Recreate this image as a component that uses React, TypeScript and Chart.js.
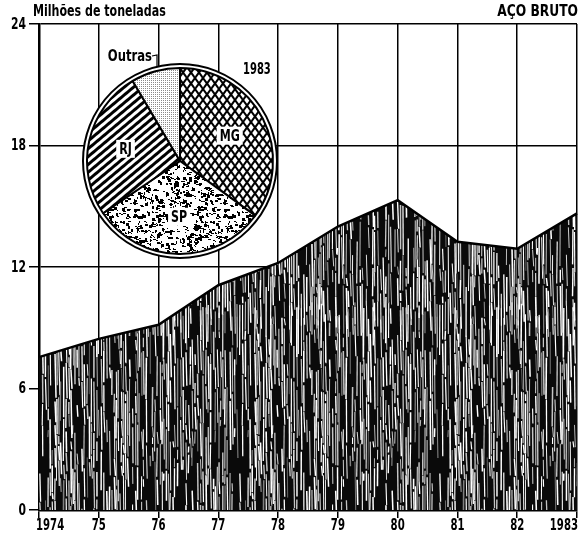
import React, { useEffect, useRef } from 'react';
import { Chart, registerables } from 'chart.js';
Chart.register(...registerables);

// ---- data ----
const years = ['1974', '75', '76', '77', '78', '79', '80', '81', '82', '1983'];
const production = [7.55, 8.45, 9.15, 11.1, 12.2, 14.0, 15.3, 13.25, 12.9, 14.65];
const yTickStep = 6;
const yMax = 24;
const pieLabels = ['MG', 'SP', 'RJ', 'Outras'];
const pieShares = [35, 30.5, 26, 8.5];
const pieYear = '1983';
const unitLabel = 'Milhões de toneladas';
const chartTitle = 'AÇO BRUTO';

const FONT = "'DejaVu Sans Condensed', 'DejaVu Sans', sans-serif";
const FONT_CSS = `bold 15px ${FONT}`;

function mulberry32(a: number) {
  return function () {
    a |= 0; a = (a + 0x6d2b79f5) | 0;
    let t = Math.imul(a ^ (a >>> 15), 1 | a);
    t = (t + Math.imul(t ^ (t >>> 7), 61 | t)) ^ t;
    return ((t ^ (t >>> 14)) >>> 0) / 4294967296;
  };
}

function drawText(ctx: CanvasRenderingContext2D, text: string, x: number, y: number, align: CanvasTextAlign, sx: number) {
  ctx.save();
  ctx.translate(x, y);
  ctx.scale(sx, 1);
  ctx.textAlign = align;
  ctx.fillText(text, 0, 0);
  ctx.restore();
}

function streakPattern(ctx: CanvasRenderingContext2D) {
  const W = 200, H = 300;
  const c = document.createElement('canvas'); c.width = W; c.height = H;
  const g = c.getContext('2d')!;
  g.fillStyle = '#0a0a0a'; g.fillRect(0, 0, W, H);
  const rnd = mulberry32(11);
  let x = 0.5;
  while (x < W - 1) {
    let y = rnd() * 20;
    const yStart = y;
    while (y < H + yStart) {
      const len = 6 + rnd() * 45;
      if (rnd() < 0.66) {
        const r = rnd();
        g.strokeStyle = r < 0.72 ? '#ffffff' : r < 0.9 ? '#c4c4c4' : '#808080';
        g.lineWidth = 0.7 + rnd() * 0.9;
        const dx = (rnd() - 0.3) * 1.6;
        for (const oy of [0, -H]) {
          for (const ox of [-W, 0, W]) {
            g.beginPath(); g.moveTo(x + ox, y + oy); g.lineTo(x + ox + dx, y + oy + len); g.stroke();
          }
        }
      }
      y += len + rnd() * 4;
    }
    x += 1.5 + rnd() * 1.7;
  }
  return ctx.createPattern(c, 'repeat')!;
}

function crossPattern(ctx: CanvasRenderingContext2D) {
  const W = 8, H = 11;
  const c = document.createElement('canvas'); c.width = W; c.height = H;
  const g = c.getContext('2d')!;
  g.fillStyle = '#fff'; g.fillRect(0, 0, W, H);
  g.strokeStyle = '#000'; g.lineWidth = 2;
  for (const ox of [-W, 0, W]) {
    g.beginPath(); g.moveTo(ox, 0); g.lineTo(ox + W, H); g.stroke();
    g.beginPath(); g.moveTo(ox + W, 0); g.lineTo(ox, H); g.stroke();
  }
  return ctx.createPattern(c, 'repeat')!;
}

function stripePattern(ctx: CanvasRenderingContext2D) {
  const c = document.createElement('canvas'); c.width = 6; c.height = 6;
  const g = c.getContext('2d')!;
  g.fillStyle = '#fff'; g.fillRect(0, 0, 6, 6);
  g.fillStyle = '#000'; g.fillRect(0, 0, 6, 3);
  const p = ctx.createPattern(c, 'repeat')!;
  p.setTransform(new DOMMatrix().rotateSelf(-40));
  return p;
}

function speckPattern(ctx: CanvasRenderingContext2D) {
  const W = 90, H = 90;
  const c = document.createElement('canvas'); c.width = W; c.height = H;
  const g = c.getContext('2d')!;
  g.fillStyle = '#fff'; g.fillRect(0, 0, W, H);
  g.fillStyle = '#000';
  const rnd = mulberry32(5);
  for (let i = 0; i < 650; i++) {
    const x = Math.floor(rnd() * W), y = Math.floor(rnd() * H);
    const w = 1 + Math.floor(rnd() * 3), h = 1 + Math.floor(rnd() * 3);
    g.fillRect(x, y, w, h);
    if (rnd() < 0.4) g.fillRect(x + w, y + 1, 1 + Math.floor(rnd() * 2), 1);
  }
  return ctx.createPattern(c, 'repeat')!;
}

function dotPattern(ctx: CanvasRenderingContext2D) {
  const c = document.createElement('canvas'); c.width = 2; c.height = 2;
  const g = c.getContext('2d')!;
  g.fillStyle = '#fff'; g.fillRect(0, 0, 2, 2);
  g.fillStyle = '#8a8a8a'; g.fillRect(0, 0, 1, 1);
  return ctx.createPattern(c, 'repeat')!;
}

export default function App() {
  const mainRef = useRef<HTMLCanvasElement>(null);
  const pieRef = useRef<HTMLCanvasElement>(null);

  useEffect(() => {
    const mainCtx = mainRef.current!.getContext('2d')!;
    const pieCtx = pieRef.current!.getContext('2d')!;

    const textPlugin = {
      id: 'texts',
      afterDraw(chart: any) {
        const ctx = chart.ctx;
        ctx.save();
        ctx.fillStyle = '#000';
        ctx.font = FONT_CSS;
        ctx.textBaseline = 'alphabetic';
        drawText(ctx, unitLabel, 33, 16, 'left', 0.82);
        drawText(ctx, chartTitle, 578, 16, 'right', 0.91);
        drawText(ctx, pieYear, 243, 74, 'left', 0.74);
        drawText(ctx, pieLabels[3], 152, 61, 'right', 0.86);
        ctx.strokeStyle = '#000'; ctx.lineWidth = 1.2;
        ctx.beginPath(); ctx.moveTo(152, 56); ctx.lineTo(157, 55); ctx.lineTo(157, 67); ctx.stroke();

        // axis tick labels, placed through the chart's scales
        const xs = chart.scales.x, ys = chart.scales.y;
        ctx.textBaseline = 'middle';
        const n = xs.ticks.length;
        xs.ticks.forEach((t: any, i: number) => {
          const px = xs.getPixelForTick(i);
          const lbl = xs.getLabelForValue(t.value);
          const align: CanvasTextAlign = i === 0 ? 'left' : i === n - 1 ? 'right' : 'center';
          drawText(ctx, lbl, i === 0 ? px - 3 : i === n - 1 ? px + 1 : px, ys.bottom + 16, align, 0.75);
        });
        ys.ticks.forEach((t: any) => {
          const py = ys.getPixelForValue(t.value);
          drawText(ctx, String(t.value), 26, py + 1, 'right', 0.8);
        });
        ctx.restore();
      },
    };

    const main = new Chart(mainCtx, {
      type: 'line',
      data: {
        labels: years,
        datasets: [{
          data: production,
          fill: 'origin',
          backgroundColor: streakPattern(mainCtx),
          borderColor: '#000',
          borderWidth: 2.5,
          pointRadius: 0,
          tension: 0,
        }],
      },
      options: {
        responsive: false,
        animation: false,
        devicePixelRatio: 1,
        events: [],
        layout: { padding: { top: 24, right: 4, left: 0, bottom: 0 } },
        plugins: { legend: { display: false }, tooltip: { enabled: false } },
        scales: {
          x: {
            type: 'category',
            offset: false,
            grid: { color: '#000', lineWidth: 1.5, tickLength: 8 },
            border: { color: '#000', width: 2.5 },
            ticks: { display: false, autoSkip: false },
            afterFit: (s: any) => { s.height = 32; },
          },
          y: {
            min: 0, max: yMax,
            grid: { color: '#000', lineWidth: 1.5, tickLength: 10 },
            border: { color: '#000', width: 2.5 },
            ticks: { display: false, stepSize: yTickStep },
            afterFit: (s: any) => { s.width = 39; },
          },
        },
      },
      plugins: [textPlugin],
    } as any);

    const piePlugin = {
      id: 'pieDeco',
      beforeDatasetsDraw(chart: any) {
        const arc = chart.getDatasetMeta(0).data[0];
        if (!arc) return;
        const ctx = chart.ctx;
        ctx.save();
        ctx.fillStyle = '#fff';
        ctx.beginPath(); ctx.arc(arc.x, arc.y, arc.outerRadius + 4, 0, Math.PI * 2); ctx.fill();
        ctx.restore();
      },
      afterDatasetsDraw(chart: any) {
        const meta = chart.getDatasetMeta(0);
        const a0 = meta.data[0];
        const ctx = chart.ctx;
        ctx.save();
        ctx.strokeStyle = '#000'; ctx.lineWidth = 2;
        ctx.beginPath(); ctx.arc(a0.x, a0.y, a0.outerRadius + 4, 0, Math.PI * 2); ctx.stroke();
        ctx.font = FONT_CSS;
        ctx.textBaseline = 'middle';
        meta.data.forEach((arc: any, i: number) => {
          if (i === 3) return;
          const mid = (arc.startAngle + arc.endAngle) / 2;
          const r = arc.outerRadius * 0.6;
          const x = arc.x + Math.cos(mid) * r, y = arc.y + Math.sin(mid) * r;
          const w = ctx.measureText(pieLabels[i]).width * 0.82 + 6;
          ctx.fillStyle = '#fff';
          ctx.fillRect(x - w / 2, y - 9, w, 18);
          ctx.fillStyle = '#000';
          drawText(ctx, pieLabels[i], x, y + 1, 'center', 0.82);
        });
        ctx.restore();
      },
    };

    const pie = new Chart(pieCtx, {
      type: 'pie',
      data: {
        labels: pieLabels,
        datasets: [{
          data: pieShares,
          backgroundColor: [crossPattern(pieCtx), speckPattern(pieCtx), stripePattern(pieCtx), dotPattern(pieCtx)],
          borderColor: '#000',
          borderWidth: 2,
        }],
      },
      options: {
        responsive: false,
        animation: false,
        devicePixelRatio: 1,
        events: [],
        layout: { padding: 11 },
        plugins: { legend: { display: false }, tooltip: { enabled: false } },
      },
      plugins: [piePlugin],
    } as any);

    return () => { main.destroy(); pie.destroy(); };
  }, []);

  return (
    <div style={{ position: 'fixed', left: 0, top: 0, width: 581, height: 542, background: '#fff' }}>
      <canvas ref={mainRef} width={581} height={542} style={{ position: 'absolute', left: 0, top: 0 }} />
      <canvas ref={pieRef} width={210} height={210} style={{ position: 'absolute', left: 75, top: 56 }} />
    </div>
  );
}
